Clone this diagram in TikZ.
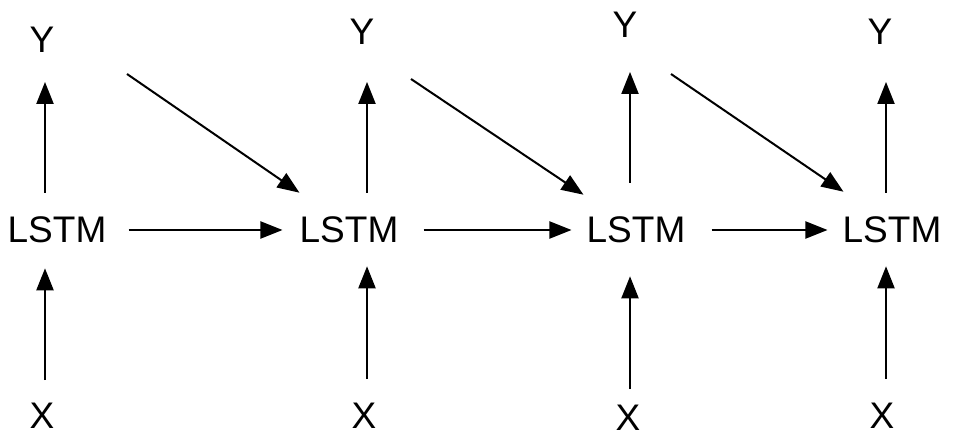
\documentclass[tikz,border=0pt]{standalone}
\usepackage{fontspec}
\setmainfont{Liberation Sans}
\usetikzlibrary{arrows.meta}
\begin{document}
\begin{tikzpicture}[x=1pt,y=-1pt,
  lbl/.style={inner sep=0pt,font=\fontsize{37}{44}\selectfont},
  arr/.style={line width=2pt,-{Triangle[length=22pt,width=17pt]}}]
\useasboundingbox (0,0) rectangle (954,446);
% columns
\coordinate (c1) at (45,0);
\coordinate (c2) at (367,0);
\coordinate (c3) at (630,0);
\coordinate (c4) at (886,0);
% labels
\node[lbl] (Y1) at (42,40) {Y};
\node[lbl] (Y2) at (362,32) {Y};
\node[lbl] (Y3) at (625,25) {Y};
\node[lbl] (Y4) at (880,32) {Y};
\node[lbl] (L1) at (57,230) {LSTM};
\node[lbl] (L2) at (349,230) {LSTM};
\node[lbl] (L3) at (636,230) {LSTM};
\node[lbl] (L4) at (892,230) {LSTM};
\node[lbl] (X1) at (42,416) {X};
\node[lbl] (X2) at (364,416) {X};
\node[lbl] (X3) at (628,418) {X};
\node[lbl] (X4) at (882,416) {X};
% diagonal starts
\coordinate (d1) at (127,74);
\coordinate (d2) at (411,79);
\coordinate (d3) at (671,74);
% upper arrows
\draw[arr,shorten <=24pt,shorten >=29pt] (L1.north -| c1) -- (Y1.south -| c1);
\draw[arr,shorten <=24pt,shorten >=37pt] (L2.north -| c2) -- (Y2.south -| c2);
\draw[arr,shorten <=34pt,shorten >=34pt] (L3.north -| c3) -- (Y3.south -| c3);
\draw[arr,shorten <=24pt,shorten >=37pt] (L4.north -| c4) -- (Y4.south -| c4);
% lower arrows
\draw[arr,shorten <=23pt,shorten >=25pt] (X1.north -| c1) -- (L1.south -| c1);
\draw[arr,shorten <=24pt,shorten >=23pt] (X2.north -| c2) -- (L2.south -| c2);
\draw[arr,shorten <=16pt,shorten >=33pt] (X3.north -| c3) -- (L3.south -| c3);
\draw[arr,shorten <=24pt,shorten >=23pt] (X4.north -| c4) -- (L4.south -| c4);
% horizontal arrows
\draw[arr,shorten <=22pt,shorten >=17pt] (L1.east) -- (L2.west);
\draw[arr,shorten <=25pt,shorten >=15pt] (L2.east) -- (L3.west);
\draw[arr,shorten <=26pt,shorten >=15pt] (L3.east) -- (L4.west);
% diagonal arrows
\draw[arr] (d1) -- ([yshift=24pt]L2.north west);
\draw[arr] (d2) -- ([xshift=-3pt,yshift=22pt]L3.north west);
\draw[arr] (d3) -- ([xshift=1pt,yshift=25pt]L4.north west);
\end{tikzpicture}
\end{document}
